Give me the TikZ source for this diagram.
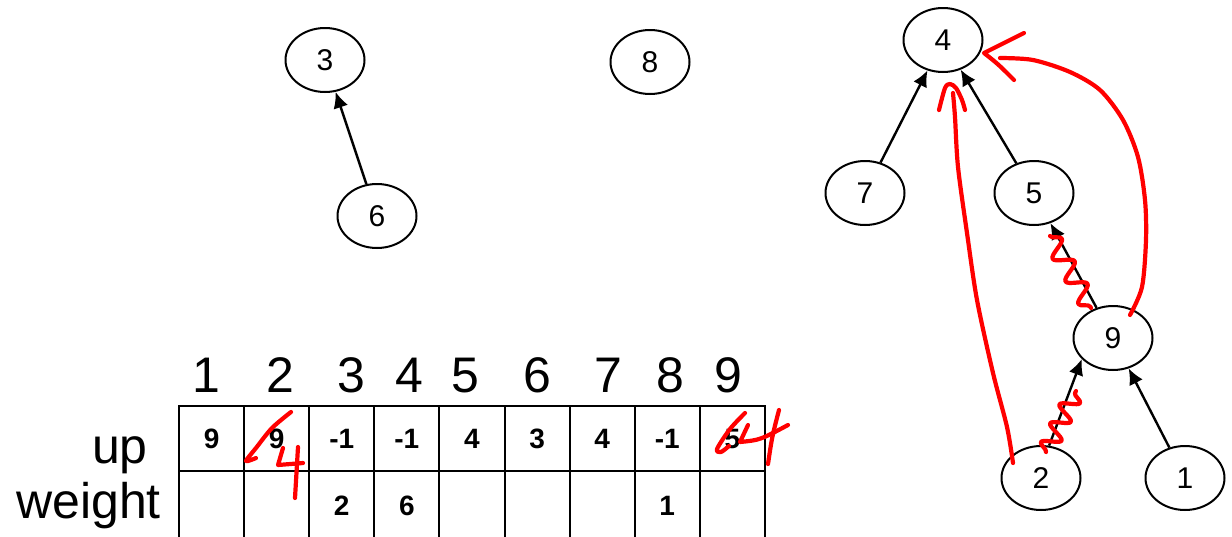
\documentclass[tikz,border=0pt]{standalone}
\usepackage{fontspec}
\setmainfont{Liberation Sans}
\usetikzlibrary{shapes.geometric}
\usetikzlibrary{arrows.meta}
\usetikzlibrary{decorations.pathmorphing}

\begin{document}
\begin{tikzpicture}[
    x=1pt, y=-1pt,
    % Define tree node style
    vertex/.style={ellipse, draw, line width=2pt, minimum width=79pt, minimum height=64pt,
                   inner sep=0pt, font=\fontsize{30}{34}\selectfont},
    edge/.style={-{Latex[length=16pt, width=15pt]}, line width=2.4pt},
    cell/.style={rectangle, draw, line width=2pt, minimum width=65.1pt, minimum height=65pt,
                 inner sep=0pt, font=\fontsize{28}{31}\selectfont\bfseries},
    biglabel/.style={font=\fontsize{50}{55}\selectfont, inner sep=0pt},
    redmark/.style={red, line width=4.2pt, line cap=round, line join=round},
    squiggle/.style={redmark, decorate, decoration={snake, amplitude=9pt, segment length=26pt}}
]
\useasboundingbox (0,0) rectangle (1232,536);

% Left tree and lone node
\node[vertex] (n3) at (325,60) {3};
\node[vertex] (n6) at (377,216) {6};
\node[vertex] (n8) at (650,62) {8};
\draw[edge] (n6) -- (n3);

% Right tree
\node[vertex] (n4) at (943,40) {4};
\node[vertex] (n7) at (865,193) {7};
\node[vertex] (n5) at (1034,193) {5};
\node[vertex] (n9) at (1113,338) {9};
\node[vertex] (n2) at (1041,478) {2};
\node[vertex] (n1) at (1185,478) {1};

\draw[edge] (n7) -- (n4);
\draw[edge] (n5) -- (n4);
\draw[edge] (n9) -- (n5);
\draw[edge] (n2.76) -- (n9.214);
\draw[edge] (n1) -- (n9);

% Red annotations on the tree
\draw[squiggle] (1050,236) -- (1091,308);
\draw[squiggle, decoration={segment length=21pt}] (1046,452) -- (1076,391);
\draw[redmark] plot[smooth] coordinates {(1013,463) (1007,427) (993,373) (977,300) (967,233) (958,167) (955,117) (953,93)};
\draw[redmark] plot[smooth] coordinates {(939,110) (945,88) (950,84) (956,88) (962,100) (965,110)};
\draw[redmark] plot[smooth] coordinates {(1130,315) (1142,287) (1146,240) (1145,200) (1138,157) (1123,120) (1100,90) (1070,72) (1033,60) (1000,58)};
\draw[redmark] (1024,33) -- (984,53) .. controls (998,64) .. (1014,80);

% Array indices
\foreach \i/\x in {1/206, 2/280, 3/351, 4/409, 5/465, 6/537, 7/608, 8/670, 9/728}
    \node[biglabel, anchor=base] (idx\i) at (\x,392) {\i};

% Row labels
\node[biglabel, anchor=base east] (uplabel) at (148,463) {up};
\node[biglabel, anchor=base east] (weightlabel) at (161,518) {weight};

% Table cells
\foreach \i/\u/\w in {1/9/, 2/9/, 3/-1/2, 4/-1/6, 5/4/, 6/3/, 7/4/, 8/-1/1, 9/5/} {
    \node[cell] (up\i) at ({179+65.1*(\i-0.5)},438.5) {\u};
    \node[cell, minimum height=70pt] (wt\i) at ({179+65.1*(\i-0.5)},506) {\w};
}

% Red corrections in the table
\draw[redmark] plot[smooth] coordinates {(291,412) (272,428) (256,448) (246,461) (256,458)};
\draw[redmark] (283,448) -- (278,465) -- (303,463);
\draw[redmark] (298,447) .. controls (296,472) .. (295,498);
\draw[redmark] plot[smooth] coordinates {(745,413) (730,429) (717,449) (721,452) (729,446)};
\draw[redmark] (748,425) -- (740,442) .. controls (760,440) .. (788,425);
\draw[redmark] (779,410) .. controls (772,437) .. (768,464);

\end{tikzpicture}
\end{document}
